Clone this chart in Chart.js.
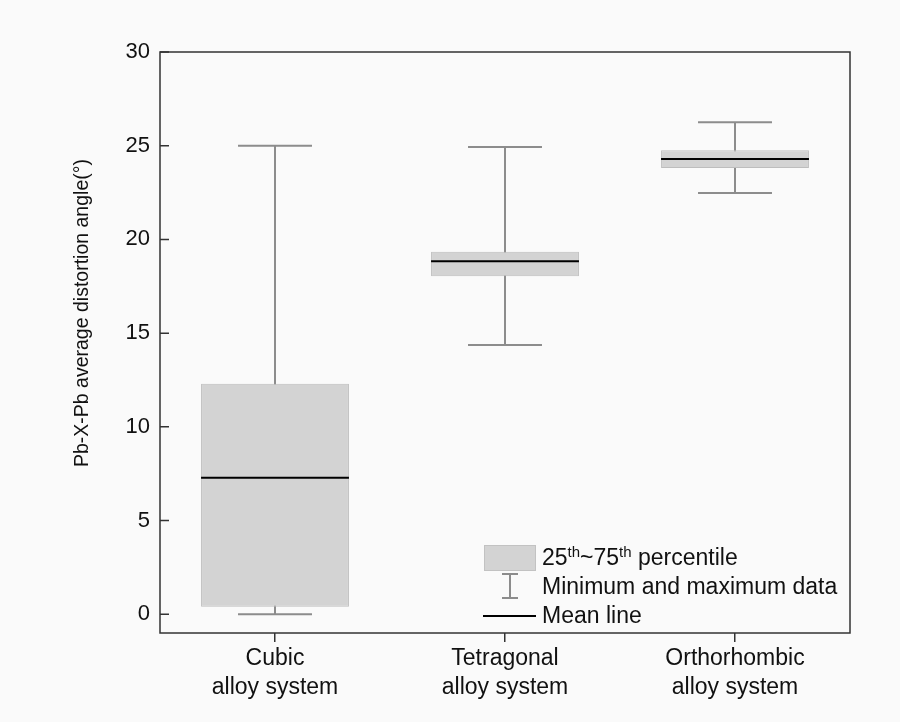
<!DOCTYPE html>
<html>
<head>
<meta charset="utf-8">
<script src="https://cdn.jsdelivr.net/npm/chart.js@4.4.0/dist/chart.umd.min.js"></script>
<style>
  html, body { margin: 0; padding: 0; background: #fafafa; }
</style>
</head>
<body>
<canvas id="boxChart" width="900" height="722"></canvas>
<script>
// values
const categories = [['Cubic', 'alloy system'], ['Tetragonal', 'alloy system'], ['Orthorhombic', 'alloy system']];
const q1 = [0.4, 18.04, 23.81];
const q3 = [12.3, 19.34, 24.76];
const means = [7.28, 18.84, 24.29];
const mins = [0.0, 14.37, 22.48];
const maxs = [25.0, 24.93, 26.25];
const yTicks = [0, 5, 10, 15, 20, 25, 30];

const FONT = 'Liberation Sans, Arial, sans-serif';
const boxFill = '#d3d3d3';
const whiskerColor = '#8c8c8c';

const boxExtras = {
  id: 'boxExtras',
  beforeDatasetsDraw(chart) {
    const ctx = chart.ctx, y = chart.scales.y;
    const bars = chart.getDatasetMeta(0).data;
    ctx.save();
    ctx.strokeStyle = whiskerColor;
    ctx.lineWidth = 2;
    bars.forEach((bar, i) => {
      const half = bar.width / 4;
      const yMax = y.getPixelForValue(maxs[i]);
      const yMin = y.getPixelForValue(mins[i]);
      ctx.beginPath();
      ctx.moveTo(bar.x, yMax); ctx.lineTo(bar.x, yMin);
      ctx.moveTo(bar.x - half, yMax); ctx.lineTo(bar.x + half, yMax);
      ctx.moveTo(bar.x - half, yMin); ctx.lineTo(bar.x + half, yMin);
      ctx.stroke();
    });
    ctx.restore();
  },
  afterDatasetsDraw(chart) {
    const ctx = chart.ctx, y = chart.scales.y, a = chart.chartArea;
    const bars = chart.getDatasetMeta(0).data;
    ctx.save();

    // mean lines
    ctx.strokeStyle = '#000';
    ctx.lineWidth = 2;
    bars.forEach((bar, i) => {
      const yp = y.getPixelForValue(means[i]);
      ctx.beginPath();
      ctx.moveTo(bar.x - bar.width / 2, yp);
      ctx.lineTo(bar.x + bar.width / 2, yp);
      ctx.stroke();
    });

    // frame + inward y ticks
    ctx.strokeStyle = '#333';
    ctx.lineWidth = 1.5;
    ctx.strokeRect(a.left, a.top, a.right - a.left, a.bottom - a.top);
    ctx.beginPath();
    yTicks.forEach(v => {
      const yp = y.getPixelForValue(v);
      ctx.moveTo(a.left, yp);
      ctx.lineTo(a.left + 9, yp);
    });
    ctx.stroke();

    // y axis title
    ctx.fillStyle = '#111';
    ctx.font = '19.5px ' + FONT;
    ctx.textAlign = 'center';
    ctx.textBaseline = 'middle';
    ctx.save();
    ctx.translate(83, 313);
    ctx.rotate(-Math.PI / 2);
    ctx.fillText('Pb-X-Pb average distortion angle(°)', 0, 0);
    ctx.restore();

    // legend
    ctx.fillStyle = boxFill;
    ctx.fillRect(484, 545, 52, 26);
    ctx.strokeStyle = '#c2c2c2';
    ctx.lineWidth = 1;
    ctx.strokeRect(484.5, 545.5, 51, 25);

    ctx.strokeStyle = whiskerColor;
    ctx.lineWidth = 2;
    ctx.beginPath();
    ctx.moveTo(510, 574); ctx.lineTo(510, 598);
    ctx.moveTo(502, 574); ctx.lineTo(518, 574);
    ctx.moveTo(502, 598); ctx.lineTo(518, 598);
    ctx.stroke();

    ctx.strokeStyle = '#000';
    ctx.beginPath();
    ctx.moveTo(483, 616); ctx.lineTo(536, 616);
    ctx.stroke();

    ctx.fillStyle = '#111';
    ctx.textAlign = 'left';
    ctx.textBaseline = 'alphabetic';
    const parts = [['25', false], ['th', true], ['~75', false], ['th', true], [' percentile', false]];
    let x = 542;
    parts.forEach(([t, sup]) => {
      ctx.font = (sup ? '15px ' : '23px ') + FONT;
      ctx.fillText(t, x, sup ? 557 : 565);
      x += ctx.measureText(t).width;
    });
    ctx.font = '23px ' + FONT;
    ctx.fillText('Minimum and maximum data', 542, 594);
    ctx.fillText('Mean line', 542, 623);

    ctx.restore();
  }
};

new Chart(document.getElementById('boxChart'), {
  type: 'bar',
  data: {
    labels: categories,
    datasets: [{
      label: '25th~75th percentile',
      data: q1.map((v, i) => [v, q3[i]]),
      backgroundColor: boxFill,
      borderColor: '#bdbdbd',
      borderWidth: 1,
      borderSkipped: false,
      barPercentage: 0.643,
      categoryPercentage: 1
    }]
  },
  options: {
    responsive: false,
    animation: false,
    devicePixelRatio: 1,
    layout: { padding: { top: 52, right: 50, left: 0, bottom: 0 } },
    plugins: {
      legend: { display: false },
      tooltip: { enabled: false }
    },
    scales: {
      x: {
        border: { display: false },
        grid: { drawOnChartArea: false, offset: false, tickLength: 9, tickColor: '#333', lineWidth: 1.5 },
        ticks: { color: '#111', font: { family: FONT, size: 23, lineHeight: 1.26 }, padding: 2, maxRotation: 0 },
        afterFit: s => { s.height = 89; }
      },
      y: {
        min: -1,
        max: 30,
        border: { display: false },
        grid: { display: false, drawTicks: false },
        ticks: { stepSize: 5, color: '#111', font: { family: FONT, size: 22 }, padding: 10 },
        afterBuildTicks: s => { s.ticks = yTicks.map(v => ({ value: v })); },
        afterFit: s => { s.width = 160; }
      }
    }
  },
  plugins: [boxExtras]
});
</script>
</body>
</html>
